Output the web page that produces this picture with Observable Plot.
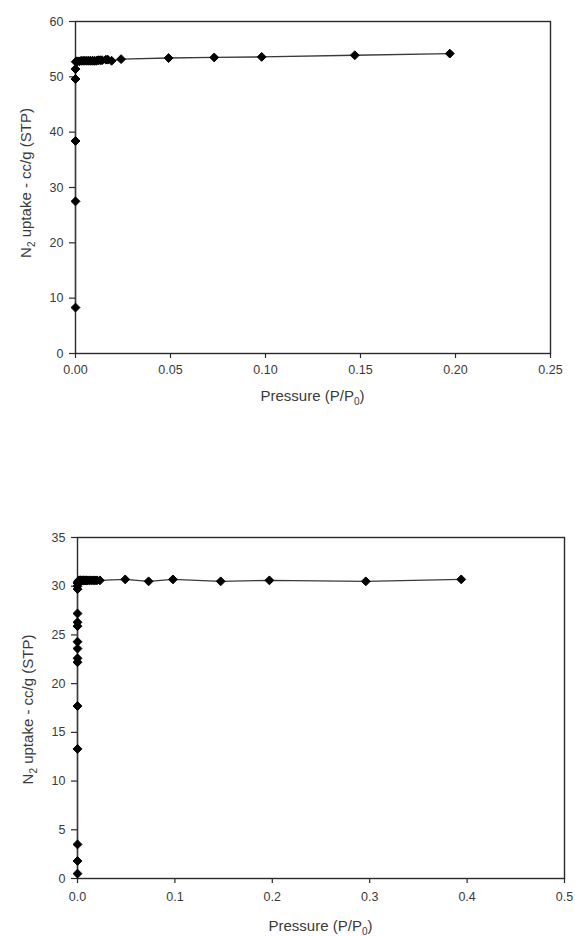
<!DOCTYPE html>
<html>
<head>
<meta charset="utf-8">
<script src="https://cdn.jsdelivr.net/npm/d3@7"></script>
<script src="https://cdn.jsdelivr.net/npm/@observablehq/plot@0.6"></script>
<style>
  html, body { margin: 0; padding: 0; background: #fff; }
  #wrap { position: relative; width: 575px; height: 936px; overflow: hidden; }
  #top, #bottom { position: absolute; left: 0; }
  #top { top: 0; }
  #bottom { top: 460px; }
</style>
</head>
<body>
<div id="wrap"><div id="top"></div><div id="bottom"></div></div>
<script>
// ---- Top chart data ----
const topPressure = [0, 0, 0, 0, 0, 0.0002, 0.0005, 0.001, 0.002, 0.003, 0.004, 0.005, 0.006, 0.007, 0.008, 0.009, 0.010, 0.011, 0.012, 0.013, 0.014, 0.016, 0.017, 0.019, 0.024, 0.049, 0.073, 0.098, 0.147, 0.197];
const topUptake   = [8.3, 27.5, 38.4, 49.6, 51.4, 52.7, 52.8, 52.8, 52.8, 52.9, 52.9, 52.9, 52.9, 52.9, 52.9, 52.9, 52.9, 52.9, 53.0, 53.0, 53.0, 53.1, 53.1, 52.9, 53.2, 53.4, 53.5, 53.6, 53.9, 54.2];
const topXTicks = [0, 0.05, 0.10, 0.15, 0.20, 0.25];
const topYTicks = [0, 10, 20, 30, 40, 50, 60];

// ---- Bottom chart data ----
const botPressure = [0, 0, 0, 0, 0, 0, 0, 0, 0, 0, 0, 0, 0, 0, 0, 0.0003, 0.0008, 0.0015, 0.002, 0.003, 0.004, 0.005, 0.006, 0.007, 0.008, 0.009, 0.010, 0.012, 0.014, 0.016, 0.018, 0.020, 0.023, 0.049, 0.073, 0.098, 0.147, 0.197, 0.296, 0.394];
const botUptake   = [0.5, 1.8, 3.5, 13.3, 17.7, 22.2, 22.6, 23.6, 24.3, 25.9, 26.3, 27.2, 29.7, 30.0, 30.3, 30.4, 30.5, 30.6, 30.6, 30.6, 30.6, 30.6, 30.6, 30.6, 30.6, 30.6, 30.6, 30.6, 30.6, 30.6, 30.6, 30.6, 30.6, 30.7, 30.5, 30.7, 30.5, 30.6, 30.5, 30.7];
const botXTicks = [0, 0.1, 0.2, 0.3, 0.4, 0.5];
const botYTicks = [0, 5, 10, 15, 20, 25, 30, 35];

const yLabelParts = ["N", "2", " uptake - cc/g (STP)"];
const xLabelParts = ["Pressure (P/P", "0", ")"];

function makeChart(cfg) {
  const data = cfg.px.map((p, i) => ({p, u: cfg.uy[i]}));
  const plot = Plot.plot({
    width: 575,
    height: cfg.height,
    marginLeft: cfg.ml, marginRight: cfg.mr, marginTop: cfg.mt, marginBottom: cfg.mb,
    style: {fontFamily: "'Liberation Sans', Arial, sans-serif", fontSize: "12.5px", color: "#3a3a3a", background: "#fff"},
    x: {domain: cfg.xDomain},
    y: {domain: cfg.yDomain},
    marks: [
      Plot.frame({stroke: "#2a2a2a", strokeWidth: 1.4}),
      Plot.axisX({ticks: cfg.xTicks, tickFormat: d3.format(cfg.xFmt), tickSize: 5, tickPadding: cfg.xPad, label: null, stroke: "#2a2a2a", strokeWidth: 1.2}),
      Plot.axisY({ticks: cfg.yTicks, tickFormat: d3.format("d"), tickSize: 6, tickPadding: 6, label: null, stroke: "#2a2a2a", strokeWidth: 1.2}),
      Plot.line(data, {x: "p", y: "u", stroke: "#3a3a3a", strokeWidth: 1.3}),
      Plot.dot(data, {x: "p", y: "u", symbol: "diamond2", r: 4, fill: "#000", stroke: "#000", strokeWidth: 1, strokeLinejoin: "round"})
    ]
  });
  const svg = d3.select(plot);
  const mid = (cfg.mt + cfg.height - cfg.mb) / 2 + cfg.yLabelShift;
  const yl = svg.append("text")
    .attr("transform", `translate(${cfg.yLabelX},${mid}) rotate(-90)`)
    .attr("text-anchor", "middle").attr("font-size", 15).attr("fill", "#3a3a3a");
  yl.append("tspan").text(yLabelParts[0]);
  yl.append("tspan").attr("dy", 4).attr("font-size", 10).text(yLabelParts[1]);
  yl.append("tspan").attr("dy", -4).text(yLabelParts[2]);
  const cx = (cfg.ml + 575 - cfg.mr) / 2;
  const xl = svg.append("text")
    .attr("x", cx).attr("y", cfg.xLabelY)
    .attr("text-anchor", "middle").attr("font-size", 15).attr("fill", "#3a3a3a");
  xl.append("tspan").text(xLabelParts[0]);
  xl.append("tspan").attr("dy", 4).attr("font-size", 10).text(xLabelParts[1]);
  xl.append("tspan").attr("dy", -4).text(xLabelParts[2]);
  return plot;
}

document.getElementById("top").append(makeChart({
  px: topPressure, uy: topUptake, xTicks: topXTicks, yTicks: topYTicks, xFmt: ".2f", xPad: 7,
  xDomain: [0, 0.25], yDomain: [0, 60],
  height: 420, ml: 75, mr: 25, mt: 21, mb: 67, yLabelX: 31, yLabelShift: -4, xLabelY: 401
}));
document.getElementById("bottom").append(makeChart({
  px: botPressure, uy: botUptake, xTicks: botXTicks, yTicks: botYTicks, xFmt: ".1f", xPad: 9,
  xDomain: [0, 0.5], yDomain: [0, 35],
  height: 476, ml: 77, mr: 11, mt: 77, mb: 58, yLabelX: 33, yLabelShift: 2, xLabelY: 471
}));
</script>
</body>
</html>
